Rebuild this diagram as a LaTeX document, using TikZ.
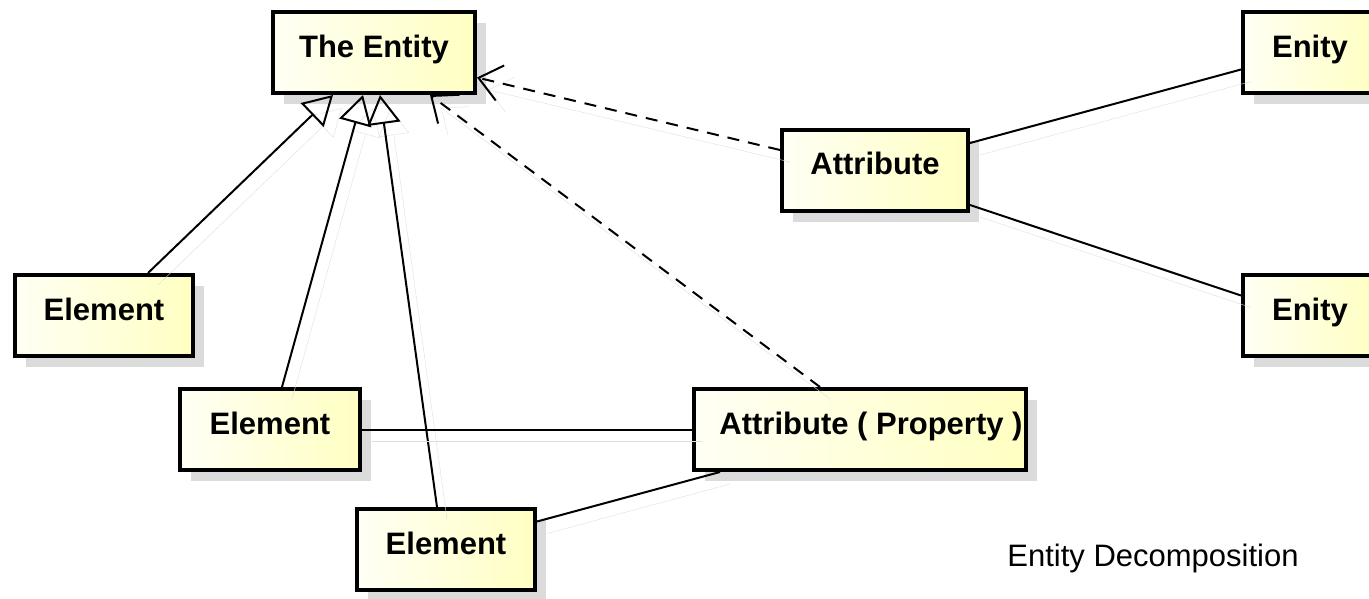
\documentclass[tikz,border=0pt]{standalone}
\usepackage{fontspec}
\setmainfont{Liberation Sans}
\usepackage{tikz}
\usetikzlibrary{arrows.meta}
\usetikzlibrary{shadows}

\begin{document}
\begin{tikzpicture}[x=1pt,y=-1pt,
        box/.style={draw=black,line width=4pt,left color=yellow!4,right color=yellow!24,
            minimum height=81pt,inner sep=0pt,text height=22pt,text depth=13pt,
            font=\bfseries\fontsize{31}{36}\selectfont,
            drop shadow={shadow xshift=11pt,shadow yshift=-11pt,fill=black!14,opacity=1}},
        link/.style={line width=2pt,preaction={draw=black!13,solid,transform canvas={shift={(10pt,-12pt)}}}},
        gen/.style={link,-{Triangle[open,length=29pt,width=33pt]}},
        dep/.style={link,dash pattern=on 12pt off 9pt,-{Straight Barb[length=22pt,width=36pt]}}]
                \useasboundingbox (0,0) rectangle (1369,598);

                \node[box,minimum width=202pt] (entity) at (374,52.5) {The Entity};
                \node[box,minimum width=186pt] (attr) at (875,170) {Attribute};
                \node[box,minimum width=134pt] (enityA) at (1310,52.5) {Enity};
                \node[box,minimum width=134pt] (enityB) at (1310,315.5) {Enity};
                \node[box,minimum width=178pt] (elemA) at (104,315.5) {Element};
                \node[box,minimum width=180pt] (elemB) at (270,429.5) {Element};
                \node[box,minimum width=332pt] (prop) at (860,429.5) {\hspace*{22pt}Attribute ( Property )};
                \node[box,minimum width=178pt] (elemC) at (446,549.5) {Element};
                \node[font=\fontsize{31}{36}\selectfont] (title) at (1153,558) {Entity Decomposition};

                \draw[gen] ([xshift=44pt]elemA.north) -- ([xshift=-41pt]entity.south);
                \draw[gen] ([xshift=12pt]elemB.north) -- ([xshift=-11pt]entity.south);
                \draw[gen] ([xshift=-9pt]elemC.north) -- ([xshift=6pt]entity.south);
                \draw[dep] ([yshift=20pt]attr.west) -- ([yshift=-25pt]entity.east);
                \draw[dep] ([xshift=-40pt]prop.north) -- ([xshift=56pt]entity.south);

                \draw[link] ([yshift=27pt]attr.east) -- ([yshift=-17pt]enityA.west);
                \draw[link] ([yshift=-35pt]attr.east) -- ([yshift=20pt]enityB.west);
                \draw[link] (elemB.east) -- (prop.west);
                \draw[link] ([yshift=28pt]elemC.east) -- ([xshift=-140pt]prop.south);
            \end{tikzpicture}
\end{document}
